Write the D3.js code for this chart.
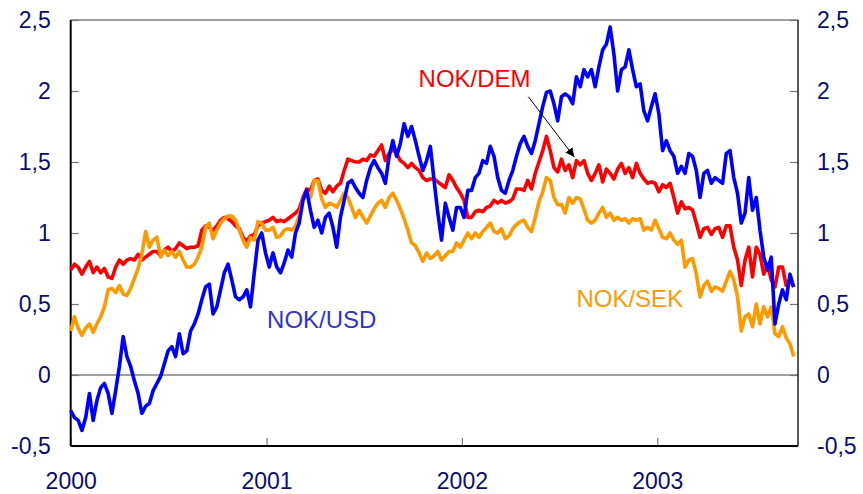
<!DOCTYPE html>
<html>
<head>
<meta charset="utf-8">
<script src="https://cdn.jsdelivr.net/npm/d3@7"></script>
<style>
  body { margin: 0; background: #fff; }
  svg { display: block; font-family: "Liberation Sans", Arial, sans-serif; }
</style>
</head>
<body>
<svg id="chart" width="863" height="494"></svg>
<script>
// weekly observations, first one on 1 Jan 2000
const startDate = Date.UTC(2000, 0, 1);
const endDate = Date.UTC(2003, 8, 21);

const yTicks = [-0.5, 0, 0.5, 1, 1.5, 2, 2.5];

const usd = [-0.25,-0.30,-0.32,-0.39,-0.30,-0.13,-0.32,-0.18,-0.09,-0.06,
  -0.13,-0.27,-0.11,0.06,0.27,0.13,0.06,-0.04,-0.13,-0.27,
  -0.22,-0.20,-0.11,-0.06,-0.01,0.08,0.17,0.20,0.13,0.29,
  0.15,0.17,0.31,0.36,0.43,0.53,0.62,0.64,0.43,0.48,
  0.60,0.72,0.78,0.67,0.55,0.53,0.55,0.60,0.48,0.72,
  0.95,1.00,0.86,0.76,0.86,0.76,0.72,0.79,0.88,0.83,
  1.00,1.07,1.23,1.30,1.16,1.04,1.09,1.00,1.11,1.14,
  1.04,0.90,1.11,1.23,1.35,1.37,1.32,1.28,1.25,1.37,
  1.46,1.51,1.46,1.42,1.35,1.54,1.65,1.54,1.63,1.77,
  1.68,1.75,1.65,1.54,1.44,1.51,1.61,1.37,1.14,0.95,
  1.21,1.11,1.02,1.18,1.18,1.11,1.30,1.30,1.39,1.42,
  1.51,1.49,1.61,1.54,1.39,1.30,1.28,1.37,1.44,1.54,
  1.63,1.68,1.61,1.56,1.65,1.77,1.89,1.99,2.00,1.91,
  1.79,1.96,1.98,1.96,1.91,2.10,2.03,2.15,2.10,2.15,
  2.03,2.17,2.29,2.33,2.45,2.26,2.00,2.15,2.17,2.29,
  2.15,2.03,2.05,1.86,1.79,1.89,1.98,1.84,1.58,1.65,
  1.58,1.54,1.42,1.47,1.42,1.56,1.54,1.44,1.25,1.42,
  1.44,1.35,1.39,1.37,1.35,1.56,1.58,1.39,1.28,1.07,
  1.14,1.39,1.16,1.25,1.02,0.83,0.74,0.83,0.36,0.50,
  0.60,0.53,0.71,0.62];

const dem = [0.74,0.78,0.76,0.71,0.76,0.80,0.72,0.76,0.72,0.75,
  0.69,0.68,0.76,0.81,0.78,0.81,0.82,0.81,0.85,0.81,
  0.83,0.85,0.87,0.87,0.84,0.88,0.90,0.87,0.89,0.93,
  0.91,0.89,0.90,0.90,0.91,1.02,1.05,1.04,1.02,1.05,
  1.09,1.11,1.10,1.08,1.05,1.03,0.97,0.94,0.98,0.99,
  1.05,1.07,1.08,1.09,1.11,1.08,1.09,1.08,1.10,1.12,
  1.14,1.17,1.25,1.31,1.30,1.37,1.38,1.30,1.28,1.33,
  1.29,1.33,1.35,1.44,1.52,1.51,1.50,1.50,1.52,1.51,
  1.55,1.54,1.58,1.62,1.51,1.56,1.59,1.56,1.51,1.49,
  1.46,1.49,1.46,1.44,1.39,1.37,1.38,1.38,1.36,1.34,
  1.32,1.41,1.37,1.32,1.28,1.23,1.11,1.11,1.15,1.16,
  1.15,1.18,1.19,1.23,1.21,1.23,1.21,1.22,1.24,1.31,
  1.31,1.30,1.37,1.31,1.42,1.50,1.58,1.68,1.58,1.46,
  1.43,1.52,1.44,1.48,1.39,1.51,1.48,1.51,1.42,1.37,
  1.42,1.48,1.36,1.45,1.42,1.38,1.45,1.49,1.42,1.46,
  1.39,1.49,1.42,1.38,1.35,1.36,1.35,1.29,1.34,1.32,
  1.35,1.25,1.14,1.22,1.17,1.18,1.16,1.07,0.97,1.03,
  1.04,0.99,1.03,1.04,0.97,1.05,1.05,0.90,0.81,0.63,
  0.81,0.90,0.69,0.90,0.85,0.71,0.78,0.67,0.62,0.76,
  0.76,0.63,0.67,0.62];

const sek = [0.31,0.41,0.33,0.28,0.33,0.36,0.30,0.36,0.41,0.48,
  0.60,0.61,0.58,0.63,0.57,0.56,0.61,0.68,0.75,0.85,
  1.01,0.90,0.95,0.97,0.83,0.88,0.84,0.87,0.83,0.87,
  0.81,0.76,0.76,0.78,0.83,0.90,1.04,1.07,0.96,1.02,
  1.07,1.10,1.12,1.12,1.09,1.02,0.95,0.90,0.97,0.95,
  1.08,1.07,1.02,1.02,1.04,0.97,0.98,1.02,1.03,1.02,
  1.05,1.12,1.24,1.28,1.25,1.37,1.37,1.24,1.18,1.21,
  1.20,1.18,1.23,1.28,1.25,1.18,1.11,1.16,1.11,1.07,
  1.12,1.17,1.21,1.23,1.18,1.25,1.28,1.23,1.17,1.10,
  1.02,0.93,0.91,0.86,0.80,0.86,0.82,0.84,0.87,0.81,
  0.84,0.87,0.87,0.93,0.90,0.95,1.00,0.96,1.00,0.97,
  1.01,1.04,1.07,1.01,1.00,1.03,0.96,0.98,1.03,1.06,
  1.08,1.09,1.04,1.01,1.11,1.22,1.29,1.39,1.37,1.25,
  1.20,1.20,1.14,1.25,1.21,1.25,1.24,1.17,1.09,1.07,
  1.09,1.14,1.18,1.11,1.14,1.09,1.11,1.09,1.10,1.07,
  1.10,1.09,1.10,1.02,1.04,1.02,1.09,1.03,0.97,0.96,
  1.00,0.95,0.92,0.95,0.76,0.81,0.82,0.71,0.55,0.63,
  0.66,0.59,0.62,0.61,0.59,0.66,0.73,0.67,0.55,0.31,
  0.41,0.43,0.34,0.50,0.36,0.48,0.41,0.48,0.29,0.27,
  0.34,0.26,0.22,0.13];

// series labels: [name, date, value] (text anchored at left/baseline)
const labels = [
  ["NOK/DEM", "2001-10-12", 2.03, "#ff0000"],
  ["NOK/USD", "2001-01-02", 0.33, "#3333cc"],
  ["NOK/SEK", "2002-08-03", 0.48, "#ff9900"]
];
// arrow from the NOK/DEM label down to the line
const arrowFrom = ["2002-05-05", 1.96];
const arrowTo = ["2002-07-30", 1.535];

const width = 863, height = 494;
const margin = {top: 20, right: 65, bottom: 48, left: 70.7};

const svg = d3.select("#chart");

const x = d3.scaleUtc()
  .domain([startDate, endDate])
  .range([margin.left, width - margin.right]);

const y = d3.scaleLinear()
  .domain([-0.5, 2.5])
  .range([height - margin.bottom, margin.top]);

const dateOf = i => d3.utcDay.offset(new Date(startDate), 7 * i);
const parse = d3.utcParse("%Y-%m-%d");

const loc = d3.formatLocale({decimal: ",", thousands: " ", grouping: [3], currency: ["", ""], minus: "-"});
const fmt = loc.format("~g");

const tickColor = "#0c0c70";

// zero line
svg.append("line")
  .attr("x1", x.range()[0]).attr("x2", x.range()[1])
  .attr("y1", y(0)).attr("y2", y(0))
  .attr("stroke", "#808080").attr("stroke-width", 1.5);

// top border
svg.append("line")
  .attr("x1", x.range()[0]).attr("x2", x.range()[1])
  .attr("y1", y(2.5)).attr("y2", y(2.5))
  .attr("stroke", "#808080").attr("stroke-width", 1.5);

// axes
const yLeft = svg.append("g")
  .attr("transform", `translate(${x.range()[0]},0)`)
  .call(d3.axisLeft(y).tickValues(yTicks).tickFormat(fmt).tickSize(-8).tickPadding(20));

const yRight = svg.append("g")
  .attr("transform", `translate(${x.range()[1]},0)`)
  .call(d3.axisRight(y).tickValues(yTicks).tickFormat(fmt).tickSize(-8).tickPadding(19));

const xAxis = svg.append("g")
  .attr("transform", `translate(0,${y(-0.5)})`)
  .call(d3.axisBottom(x).ticks(d3.utcYear.every(1)).tickFormat(d3.utcFormat("%Y")).tickSize(-8).tickPadding(27));

[yLeft, yRight, xAxis].forEach(g => {
  g.select(".domain").remove();
  g.selectAll(".tick line").attr("stroke", "#777").attr("stroke-width", 1.2);
  g.selectAll(".tick text")
    .attr("fill", tickColor)
    .style("font-size", "23px")
    .style("font-family", '"Liberation Sans", Arial, sans-serif');
});

// frame lines
svg.append("line")
  .attr("x1", x.range()[0]).attr("x2", x.range()[0])
  .attr("y1", y(2.5)).attr("y2", y(-0.5))
  .attr("stroke", "#000").attr("stroke-width", 2);
svg.append("line")
  .attr("x1", x.range()[0]).attr("x2", x.range()[1])
  .attr("y1", y(-0.5)).attr("y2", y(-0.5))
  .attr("stroke", "#000").attr("stroke-width", 2);
svg.append("line")
  .attr("x1", x.range()[1]).attr("x2", x.range()[1])
  .attr("y1", y(2.5)).attr("y2", y(-0.5))
  .attr("stroke", "#222").attr("stroke-width", 1.5);

// series
const line = d3.line()
  .x((d, i) => x(dateOf(i)))
  .y(d => y(d));

const series = [
  {name: "NOK/DEM", values: dem, color: "#ff0000"},
  {name: "NOK/SEK", values: sek, color: "#ff9900"},
  {name: "NOK/USD", values: usd, color: "#0000ff"}
];

svg.selectAll("path.series")
  .data(series)
  .join("path")
  .attr("class", "series")
  .attr("fill", "none")
  .attr("stroke", d => d.color)
  .attr("stroke-width", 3.6)
  .attr("stroke-linejoin", "round")
  .attr("d", d => line(d.values));

// labels
svg.selectAll("text.lbl")
  .data(labels)
  .join("text")
  .attr("class", "lbl")
  .attr("x", d => x(parse(d[1])))
  .attr("y", d => y(d[2]))
  .attr("fill", d => d[3])
  .style("font-size", "24px")
  .text(d => d[0]);

// arrow
svg.append("defs").append("marker")
  .attr("id", "arrowhead")
  .attr("viewBox", "0 0 10 10")
  .attr("refX", 10).attr("refY", 5)
  .attr("markerWidth", 9).attr("markerHeight", 9)
  .attr("markerUnits", "userSpaceOnUse")
  .attr("orient", "auto")
  .append("path")
  .attr("d", "M0,0L10,5L0,10z")
  .attr("fill", "#000");

svg.append("line")
  .attr("x1", x(parse(arrowFrom[0]))).attr("y1", y(arrowFrom[1]))
  .attr("x2", x(parse(arrowTo[0]))).attr("y2", y(arrowTo[1]))
  .attr("stroke", "#000").attr("stroke-width", 1)
  .attr("marker-end", "url(#arrowhead)");
</script>
</body>
</html>
